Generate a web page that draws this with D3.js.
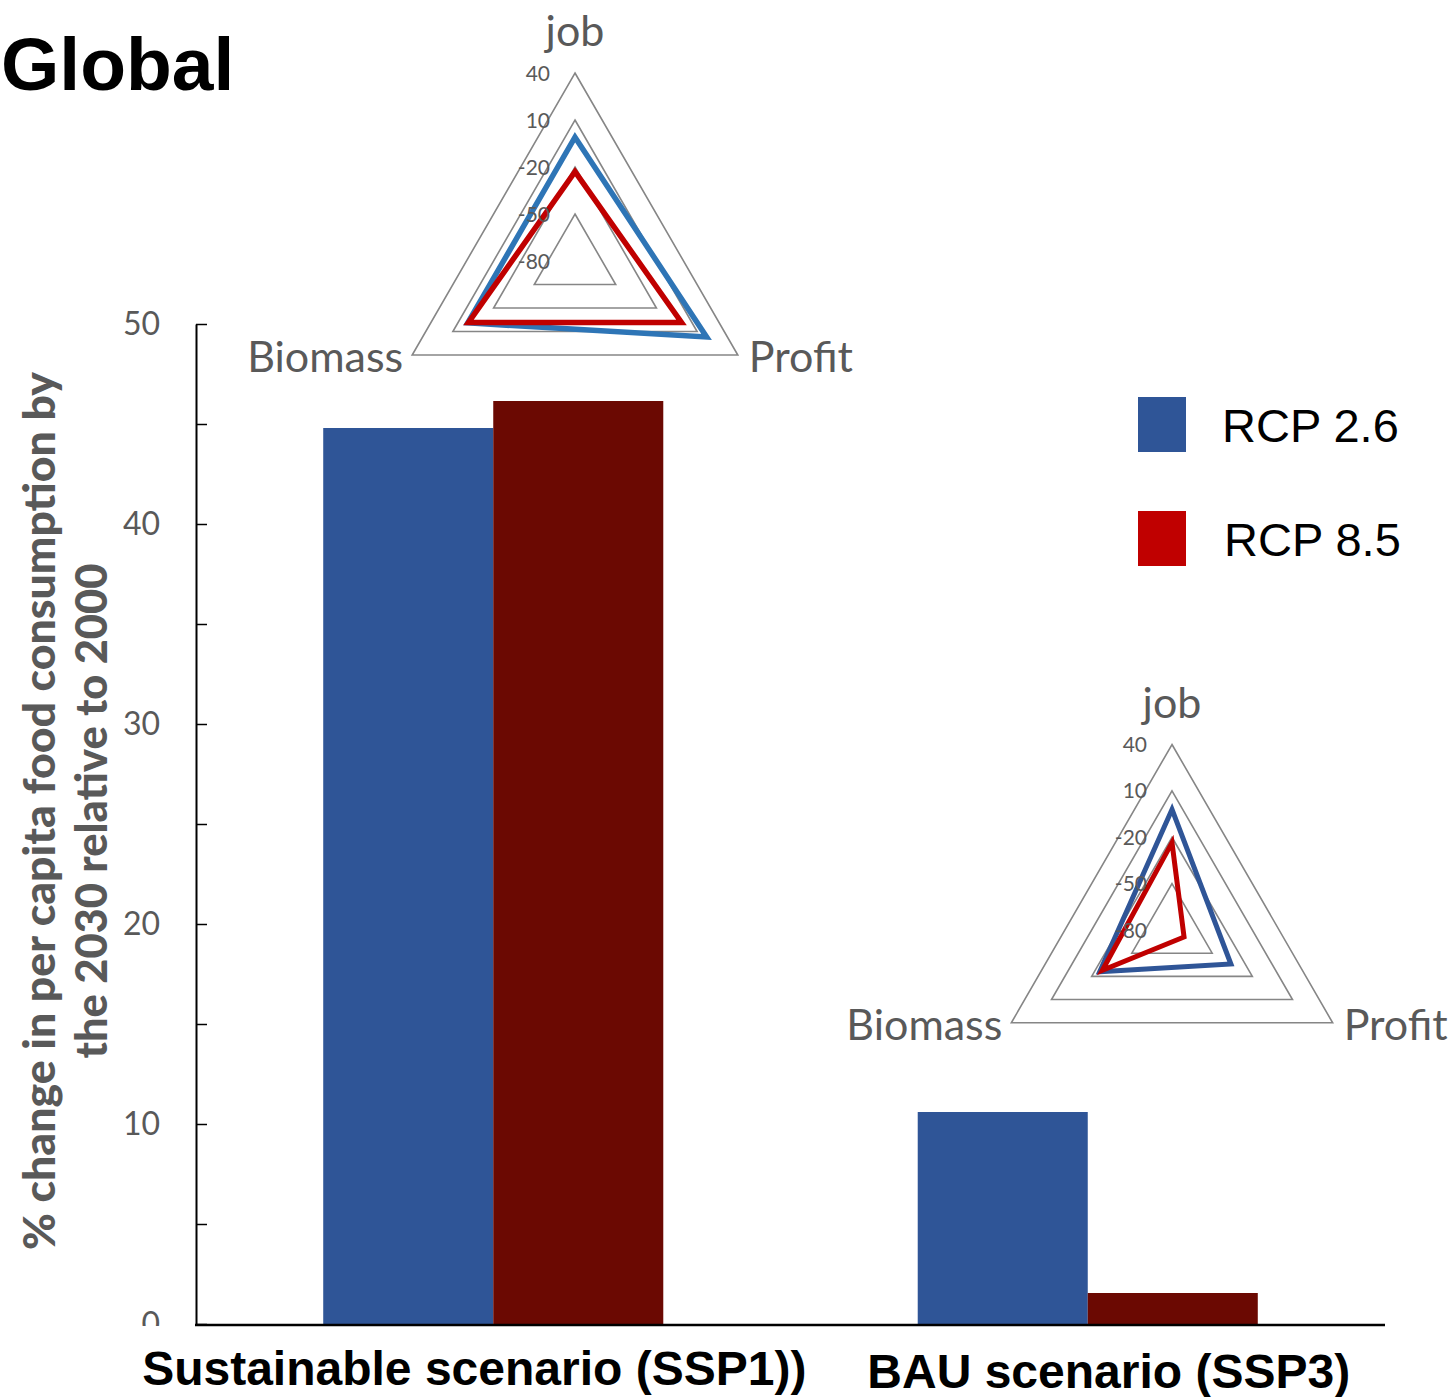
<!DOCTYPE html>
<html>
<head>
<meta charset="utf-8">
<script src="https://cdn.jsdelivr.net/npm/d3@7"></script>
<style>
  html, body { margin: 0; padding: 0; background: #fff; }
  svg { display: block; }
</style>
</head>
<body>
<script>
// Bar chart data: % change in per capita food consumption, 2030 vs 2000
const scenarios = ["Sustainable scenario (SSP1))", "BAU scenario (SSP3)"];
const seriesNames = ["RCP 2.6", "RCP 8.5"];
const rcp26Values = [44.8, 10.6];
const rcp85Values = [46.15, 1.55];
const yTicks = [0, 5, 10, 15, 20, 25, 30, 35, 40, 45, 50];

// Radar insets (job / Profit / Biomass), one per scenario
const radarAxes = ["job", "Profit", "Biomass"];
const radarRings = [40, 10, -20, -50, -80];
const ssp1Rcp26 = [-1, 17, -1];
const ssp1Rcp85 = [-23, -1.5, -1.5];
const ssp3Rcp26 = [-2, -36, -26];
const ssp3Rcp85 = [-23.5, -71, -28];

const W = 1454, H = 1397;
const svg = d3.select("body").append("svg").attr("width", W).attr("height", H);

const plotLeft = 196, plotRight = 1385, plotTop = 324, plotBottom = 1324;

const x = d3.scaleBand().domain(scenarios).range([plotLeft, plotRight])
  .paddingInner(0.428).paddingOuter(0.214);
const xs = d3.scaleBand().domain(seriesNames).range([0, x.bandwidth()]).padding(0);
const y = d3.scaleLinear().domain([0, 50]).range([plotBottom, plotTop]);

const barColors = { "RCP 2.6": "#2F5597", "RCP 8.5": "#6B0902" };
const legendColors = { "RCP 2.6": "#2F5597", "RCP 8.5": "#C00000" };

// Bars
const rows = scenarios.map((s, i) => ({ s, vals: [
  { k: "RCP 2.6", v: rcp26Values[i] },
  { k: "RCP 8.5", v: rcp85Values[i] }
]}));
const g = svg.append("g");
g.selectAll("g.grp").data(rows).join("g")
  .attr("class", "grp")
  .attr("transform", d => `translate(${x(d.s)},0)`)
  .selectAll("rect").data(d => d.vals).join("rect")
  .attr("x", d => xs(d.k))
  .attr("width", xs.bandwidth())
  .attr("y", d => y(d.v))
  .attr("height", d => y(0) - y(d.v))
  .attr("fill", d => barColors[d.k]);

// Y axis: inward ticks every 5, labels every 10; labels clipped at the baseline
svg.append("clipPath").attr("id", "yclip")
  .append("rect").attr("x", -300).attr("y", 0).attr("width", W + 300).attr("height", plotBottom + 2);
const yAxis = d3.axisLeft(y).tickValues(yTicks).tickSizeInner(-11).tickSizeOuter(0)
  .tickPadding(36).tickFormat(d => d % 10 === 0 ? d : "");
const ya = svg.append("g").attr("transform", `translate(${plotLeft},0)`)
  .attr("clip-path", "url(#yclip)").call(yAxis);
ya.select(".domain").attr("stroke", "#000").attr("stroke-width", 2);
ya.selectAll(".tick line").attr("stroke", "#000").attr("stroke-width", 1.5);
ya.selectAll(".tick text").attr("fill", "#595959")
  .style("font-family", "Lato, 'Open Sans', sans-serif").style("font-size", "32px");

// X axis baseline
svg.append("line").attr("x1", plotLeft - 1).attr("x2", plotRight).attr("y1", plotBottom + 1).attr("y2", plotBottom + 1)
  .attr("stroke", "#000").attr("stroke-width", 2.5);

// Category labels
const catBaseline = [1385, 1388];
svg.selectAll("text.cat").data(scenarios).join("text")
  .attr("class", "cat")
  .attr("x", d => x(d) + x.bandwidth() / 2 - (d === scenarios[0] ? 19 : -21))
  .attr("y", (d, i) => catBaseline[i])
  .attr("text-anchor", "middle")
  .style("font-family", "Arial, 'Liberation Sans', sans-serif")
  .style("font-weight", "bold").style("font-size", "48px").attr("fill", "#000")
  .text(d => d);

// Y axis title (two lines)
const yTitle = ["% change in per capita food consumption by", "the 2030 relative to 2000"];
const yTitleLen = [878, 495];
svg.selectAll("text.ytitle").data(yTitle).join("text")
  .attr("class", "ytitle")
  .attr("transform", (d, i) => `translate(${i === 0 ? 55 : 107},811) rotate(-90)`)
  .attr("text-anchor", "middle")
  .attr("textLength", (d, i) => yTitleLen[i])
  .attr("lengthAdjust", "spacingAndGlyphs")
  .style("font-family", "Lato, 'Open Sans', sans-serif")
  .style("font-weight", "900").style("font-size", "43px").attr("fill", "#595959")
  .text(d => d);

// Title
svg.append("text").attr("x", 1).attr("y", 90).attr("text-anchor", "start")
  .style("font-family", "Arial, 'Liberation Sans', sans-serif")
  .style("font-weight", "bold").style("font-size", "75px").attr("fill", "#000")
  .text("Global");

// Legend
const legY = [397, 511];
const leg = svg.selectAll("g.leg").data(seriesNames).join("g").attr("class", "leg")
  .attr("transform", (d, i) => `translate(1138,${legY[i]})`);
leg.append("rect").attr("width", 48).attr("height", 55).attr("fill", d => legendColors[d]);
leg.append("text").attr("x", (d, i) => i === 0 ? 84 : 86).attr("y", 45)
  .style("font-family", "Arial, 'Liberation Sans', sans-serif").style("font-size", "47px")
  .attr("fill", "#000").text(d => d);

// Radar insets
function drawRadar(cx, cy, R, blueColor, s26, s85, lw) {
  const rg = svg.append("g").attr("transform", `translate(${cx},${cy})`);
  const r = d3.scaleLinear().domain([-80, 40]).range([0, R]);
  const ang = i => i * 2 * Math.PI / radarAxes.length;
  const pt = (v, i) => [r(v) * Math.sin(ang(i)), -r(v) * Math.cos(ang(i))];
  const line = d3.line().curve(d3.curveLinearClosed);

  // grid triangles
  rg.selectAll("path.ring").data(radarRings.filter(v => v > -80)).join("path")
    .attr("class", "ring")
    .attr("d", v => line(radarAxes.map((a, i) => pt(v, i))))
    .attr("fill", "none").attr("stroke", "#868686").attr("stroke-width", 1.6);

  // series
  [[s26, blueColor], [s85, "#C00000"]].forEach(([vals, col]) => {
    rg.append("path").attr("d", line(vals.map((v, i) => pt(v, i))))
      .attr("fill", "none").attr("stroke", col).attr("stroke-width", lw)
      .attr("stroke-linejoin", "miter");
  });

  // ring value labels
  rg.selectAll("text.rl").data(radarRings).join("text").attr("class", "rl")
    .attr("x", -25).attr("y", v => -r(v)).attr("dy", "0.36em")
    .attr("text-anchor", "end")
    .style("font-family", "Lato, 'Open Sans', sans-serif").style("font-size", "21px")
    .attr("fill", "#595959").text(v => v);

  // axis labels
  const lab = rg.append("g").style("font-family", "Lato, 'Open Sans', sans-serif")
    .style("font-size", "43px").attr("fill", "#595959");
  const pTop = pt(40, 0), pR = pt(40, 1), pL = pt(40, 2);
  lab.append("text").attr("x", pTop[0]).attr("y", pTop[1] - 27).attr("text-anchor", "middle").text(radarAxes[0]);
  lab.append("text").attr("x", pR[0] + 11).attr("y", pR[1] + 17).attr("text-anchor", "start").text(radarAxes[1]);
  lab.append("text").attr("x", pL[0] - 9).attr("y", pL[1] + 17).attr("text-anchor", "end").text(radarAxes[2]);
}

drawRadar(575, 261, 188, "#2E75B6", ssp1Rcp26, ssp1Rcp85, 5.5);
drawRadar(1172, 930, 185.5, "#2F5597", ssp3Rcp26, ssp3Rcp85, 5);
</script>
</body>
</html>
